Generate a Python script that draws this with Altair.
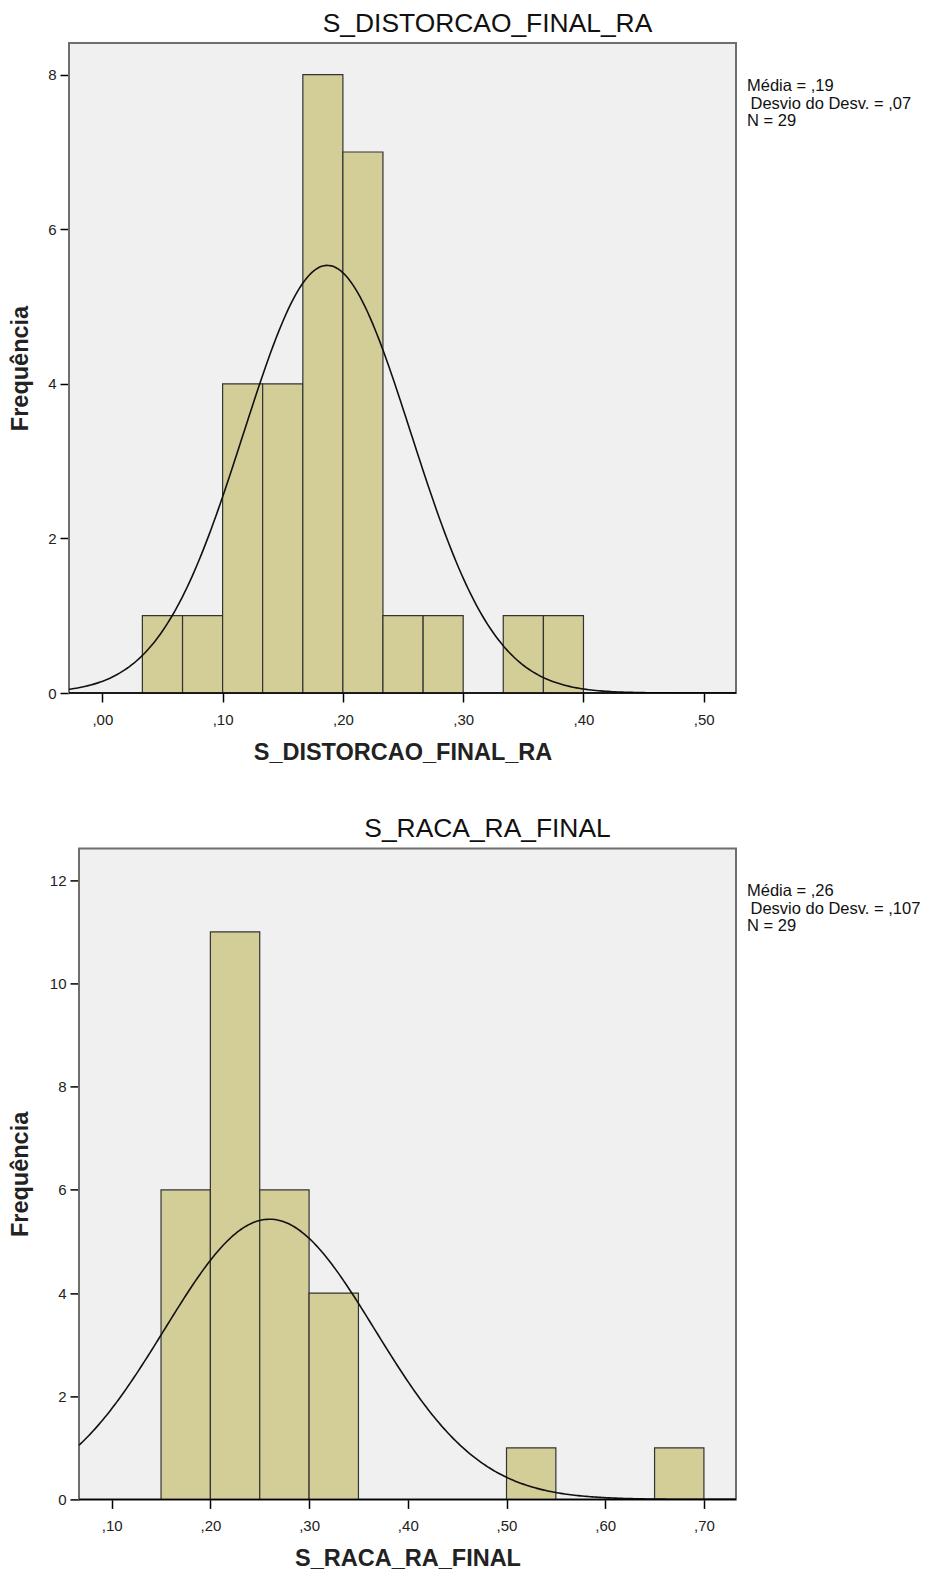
import altair as alt
import pandas as pd

# ---------------- data: S_DISTORCAO_FINAL_RA ----------------
dist_bin_start = [0.0333, 0.0667, 0.1000, 0.1333, 0.1667, 0.2000, 0.2333, 0.2667, 0.3333, 0.3667]
dist_bin_end = [0.0667, 0.1000, 0.1333, 0.1667, 0.2000, 0.2333, 0.2667, 0.3000, 0.3667, 0.4000]
dist_counts = [1, 1, 4, 4, 8, 7, 1, 1, 1, 1]
dist_stats = ["Média = ,19", " Desvio do Desv. = ,07", "N = 29"]
dist_mean, dist_sd, dist_n, dist_binw = 0.187, 0.0697, 29, 1 / 30
dist_xticks = [0.0, 0.1, 0.2, 0.3, 0.4, 0.5]
dist_yticks = [0, 2, 4, 6, 8]

# ---------------- data: S_RACA_RA_FINAL ----------------
raca_bin_start = [0.15, 0.20, 0.25, 0.30, 0.50, 0.65]
raca_bin_end = [0.20, 0.25, 0.30, 0.35, 0.55, 0.70]
raca_counts = [6, 11, 6, 4, 1, 1]
raca_stats = ["Média = ,26", " Desvio do Desv. = ,107", "N = 29"]
raca_mean, raca_sd, raca_n, raca_binw = 0.26, 0.1065, 29, 0.05
raca_xticks = [0.1, 0.2, 0.3, 0.4, 0.5, 0.6, 0.7]
raca_yticks = [0, 2, 4, 6, 8, 10, 12]

FONT = "Liberation Sans"
BAR_FILL = "#D3CE98"
BAR_STROKE = "#333333"
PLOT_BG = "#F0F0F0"
FRAME = "#6E6E6E"
LABEL_EXPR = "replace(format(datum.value, '.2f'), '0.', ',')"


def panel(name, starts, ends, counts, stats, mean, sd, n, binw,
          xdom, ydom, xticks, yticks, width, height, inset, title_dx,
          ytitle_pad):
    df = pd.DataFrame({"start": starts, "end": ends, "count": counts})
    one = pd.DataFrame({"k": [0]})
    # the visible frame starts `inset` px right of the plot origin
    ext_min = xdom[0] - inset * (xdom[1] - xdom[0]) / (width - inset)
    xscale = alt.Scale(domain=[ext_min, xdom[1]], nice=False, zero=False)
    yscale = alt.Scale(domain=ydom, nice=False, zero=False)
    xaxis = alt.Axis(values=xticks, labelExpr=LABEL_EXPR, grid=False,
                     domain=False, tickSize=9, labelPadding=10,
                     titlePadding=13, titleX=(width + inset) / 2,
                     tickColor="black", tickWidth=1.5, labelFontSize=15,
                     labelFont=FONT, labelColor="#222", titleFontSize=23.5,
                     titleFont=FONT, titleFontWeight="bold", titleColor="#222",
                     labelFlush=False)
    yaxis = alt.Axis(values=yticks, format="d", grid=False, tickSize=9,
                     labelPadding=4, titlePadding=ytitle_pad, offset=-inset,
                     domainColor="black", tickColor="black", domainWidth=1.5,
                     tickWidth=1.5, labelFontSize=15, labelFont=FONT,
                     labelColor="#222", titleFontSize=23.5, titleFont=FONT,
                     titleFontWeight="bold", titleColor="#222", labelFlush=False)
    frame = alt.Chart(one).mark_rect(
        fill=PLOT_BG, stroke=FRAME, strokeWidth=2
    ).encode(x=alt.value(inset), x2=alt.value(width), y=alt.value(0),
             y2=alt.value(height))
    bars = alt.Chart(df).mark_rect(
        fill=BAR_FILL, stroke=BAR_STROKE, strokeWidth=1.2
    ).encode(
        x=alt.X("start:Q", scale=xscale, axis=xaxis, title=name),
        x2="end:Q",
        y=alt.Y("count:Q", scale=yscale, axis=yaxis, title="Frequência"),
        y2=alt.datum(0),
    )
    curve = alt.Chart(
        alt.sequence(xdom[0], xdom[1] + 0.002, 0.002, as_="x")
    ).transform_calculate(
        y=f"{n} * {binw} / ({sd} * sqrt(2 * PI)) * exp(-0.5 * pow((datum.x - {mean}) / {sd}, 2))"
    ).mark_line(color="#111", strokeWidth=1.6, clip=True).encode(
        x=alt.X("x:Q", scale=xscale, title=name),
        y=alt.Y("y:Q", scale=yscale, title="Frequência"),
    )
    base_line = alt.Chart(one).mark_rule(color="black", strokeWidth=1.5).encode(
        x=alt.value(inset), x2=alt.value(width), y=alt.value(height)
    )
    layers = [frame, bars, curve, base_line]
    for i, line in enumerate(stats):
        indent = 3.5 if line.startswith(" ") else 0
        layers.append(
            alt.Chart(one).mark_text(
                text=line.strip(), align="left", baseline="top", fontSize=16.5,
                font=FONT, color="#111"
            ).encode(x=alt.value(width + 11 + indent), y=alt.value(35 + 17.5 * i))
        )
    return alt.layer(*layers).properties(
        width=width, height=height,
        view=alt.ViewBackground(fillOpacity=0, strokeOpacity=0),
        title=alt.TitleParams(name, anchor="middle", frame="group", dx=title_dx,
                              offset=5, fontSize=26.4, font=FONT,
                              fontWeight="normal", color="#111"),
    )


p1 = panel("S_DISTORCAO_FINAL_RA", dist_bin_start, dist_bin_end, dist_counts,
           dist_stats, dist_mean, dist_sd, dist_n, dist_binw,
           [-0.0277, 0.5268], [0, 8.41], dist_xticks, dist_yticks,
           667, 650, 0, 85, 14.8)
p2 = panel("S_RACA_RA_FINAL", raca_bin_start, raca_bin_end, raca_counts,
           raca_stats, raca_mean, raca_sd, raca_n, raca_binw,
           [0.0669, 0.7325], [0, 12.62], raca_xticks, raca_yticks,
           667, 651, 10, 85, 16.4)

chart = alt.vconcat(p1, p2, spacing=51.4).properties(
    padding={"left": 0, "top": 2, "right": 0, "bottom": 0},
)

chart.save("out.html", embed_options={"renderer": "svg", "actions": False})
